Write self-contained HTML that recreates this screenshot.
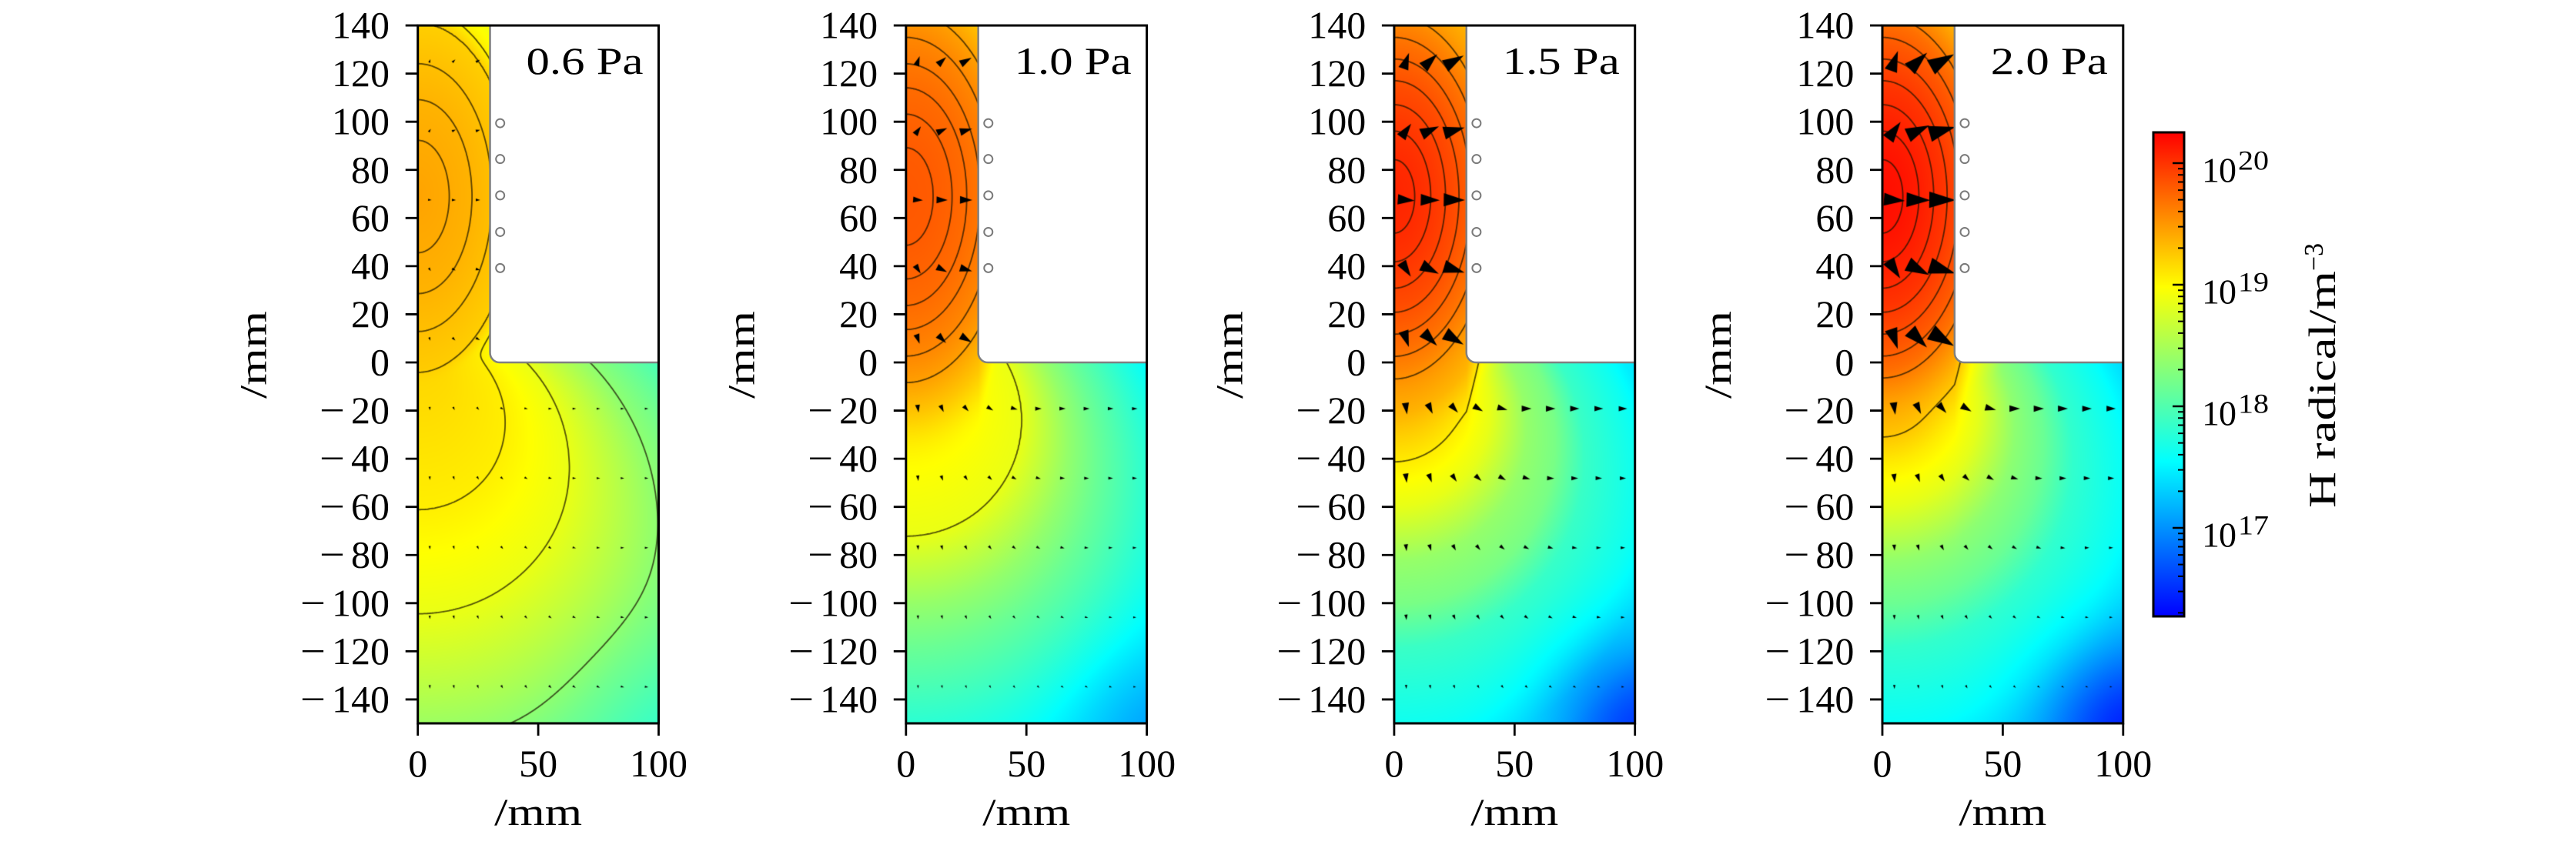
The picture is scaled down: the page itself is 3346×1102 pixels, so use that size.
<!DOCTYPE html>
<html><head><meta charset="utf-8">
<style>
html,body{margin:0;padding:0;background:#fff;}
#wrap{position:relative;width:3346px;height:1102px;overflow:hidden;background:#fff;}
#wrap svg,#wrap canvas{position:absolute;left:0;top:0;}
</style></head><body>
<div id="wrap">
<svg id="bg" width="3346" height="1102" xmlns="http://www.w3.org/2000/svg">
<defs>
<radialGradient id="s1" cx="0" cy="0.55" r="1"><stop offset="0" stop-color="#ffa500"/><stop offset="1" stop-color="#f0ff10"/></radialGradient>
<radialGradient id="l1" cx="0.05" cy="0" r="1.1"><stop offset="0" stop-color="#ffd800"/><stop offset="0.5" stop-color="#d0ff30"/><stop offset="1" stop-color="#30ffc8"/></radialGradient>
<radialGradient id="s2" cx="0" cy="0.55" r="1"><stop offset="0" stop-color="#ff5a00"/><stop offset="1" stop-color="#ffc000"/></radialGradient>
<radialGradient id="l2" cx="0.05" cy="0" r="1.1"><stop offset="0" stop-color="#ffc000"/><stop offset="0.4" stop-color="#b0ff50"/><stop offset="1" stop-color="#00b0ff"/></radialGradient>
<radialGradient id="s3" cx="0" cy="0.55" r="1"><stop offset="0" stop-color="#ff2800"/><stop offset="1" stop-color="#ffa000"/></radialGradient>
<radialGradient id="l3" cx="0.05" cy="0" r="1.1"><stop offset="0" stop-color="#ffb000"/><stop offset="0.4" stop-color="#80ff80"/><stop offset="1" stop-color="#0040ff"/></radialGradient>
</defs>
<g transform="translate(542.7,0)"><rect x="0" y="33" width="93.8" height="438" fill="url(#s1)"/><rect x="0" y="471" width="312.8" height="469" fill="url(#l1)"/></g>
<g transform="translate(1176.8,0)"><rect x="0" y="33" width="93.8" height="438" fill="url(#s2)"/><rect x="0" y="471" width="312.8" height="469" fill="url(#l2)"/></g>
<g transform="translate(1810.9,0)"><rect x="0" y="33" width="93.8" height="438" fill="url(#s3)"/><rect x="0" y="471" width="312.8" height="469" fill="url(#l3)"/></g>
<g transform="translate(2445,0)"><rect x="0" y="33" width="93.8" height="438" fill="url(#s3)"/><rect x="0" y="471" width="312.8" height="469" fill="url(#l3)"/></g>
</svg>
<canvas id="cv" width="3346" height="1102"></canvas>
<svg id="fg" width="3346" height="1102" xmlns="http://www.w3.org/2000/svg" font-family="'Liberation Serif','DejaVu Serif',serif">
<defs>
<linearGradient id="cb" x1="0" y1="1" x2="0" y2="0">
<stop offset="0" stop-color="#0000ff"/><stop offset="0.32" stop-color="#00ffff"/><stop offset="0.68" stop-color="#ffff00"/><stop offset="1" stop-color="#ff0000"/>
</linearGradient>
</defs>

<!-- PANEL 1 -->
<g transform="translate(542.7,0)">
<path d="M93.84,33.08V458.49A12.51,12.51 0 0 0 106.35,471H312.8" fill="none" stroke="#808080" stroke-width="2.5"/>
<g fill="none" stroke="#7a7a7a" stroke-width="2"><circle cx="106.98" cy="160.08" r="5.5"/><circle cx="106.98" cy="206.68" r="5.5"/><circle cx="106.98" cy="253.92" r="5.5"/><circle cx="106.98" cy="301.46" r="5.5"/><circle cx="106.98" cy="348.38" r="5.5"/></g>
<rect x="0" y="33.08" width="312.8" height="906.92" fill="none" stroke="#000" stroke-width="3"/>
<path d="M-16,33.08H0M-16,95.64H0M-16,158.2H0M-16,220.76H0M-16,283.32H0M-16,345.88H0M-16,408.44H0M-16,471H0M-16,533.56H0M-16,596.12H0M-16,658.68H0M-16,721.24H0M-16,783.8H0M-16,846.36H0M-16,908.92H0M0,940V956M156.4,940V956M312.8,940V956" stroke="#000" stroke-width="2.8"/>
<g font-size="50" fill="#000">
<text x="-111.7" y="49.58" textLength="75">140</text>
<text x="-111.7" y="112.14" textLength="75">120</text>
<text x="-111.7" y="174.7" textLength="75">100</text>
<text x="-86.7" y="237.26" textLength="50">80</text>
<text x="-86.7" y="299.82" textLength="50">60</text>
<text x="-86.7" y="362.38" textLength="50">40</text>
<text x="-86.7" y="424.94" textLength="50">20</text>
<text x="-61.7" y="487.5" textLength="25">0</text>
<text x="-127.7" y="550.06" textLength="33" lengthAdjust="spacingAndGlyphs">−</text><text x="-86.7" y="550.06" textLength="50">20</text>
<text x="-127.7" y="612.62" textLength="33" lengthAdjust="spacingAndGlyphs">−</text><text x="-86.7" y="612.62" textLength="50">40</text>
<text x="-127.7" y="675.18" textLength="33" lengthAdjust="spacingAndGlyphs">−</text><text x="-86.7" y="675.18" textLength="50">60</text>
<text x="-127.7" y="737.74" textLength="33" lengthAdjust="spacingAndGlyphs">−</text><text x="-86.7" y="737.74" textLength="50">80</text>
<text x="-152.7" y="800.3" textLength="33" lengthAdjust="spacingAndGlyphs">−</text><text x="-111.7" y="800.3" textLength="75">100</text>
<text x="-152.7" y="862.86" textLength="33" lengthAdjust="spacingAndGlyphs">−</text><text x="-111.7" y="862.86" textLength="75">120</text>
<text x="-152.7" y="925.42" textLength="33" lengthAdjust="spacingAndGlyphs">−</text><text x="-111.7" y="925.42" textLength="75">140</text>
<text x="-12.5" y="1009" textLength="25">0</text>
<text x="131.4" y="1009" textLength="50">50</text>
<text x="275.3" y="1009" textLength="75">100</text>
<text x="99.4" y="1072" textLength="114" lengthAdjust="spacingAndGlyphs">/mm</text>
<text transform="translate(-197.2,461) rotate(-90)" x="-57" y="0" textLength="114" lengthAdjust="spacingAndGlyphs">/mm</text>
<text x="140.8" y="96" textLength="152" lengthAdjust="spacingAndGlyphs">0.6 Pa</text>
</g>
</g>

<!-- PANEL 2 -->
<g transform="translate(1176.8,0)">
<path d="M93.84,33.08V458.49A12.51,12.51 0 0 0 106.35,471H312.8" fill="none" stroke="#808080" stroke-width="2.5"/>
<g fill="none" stroke="#7a7a7a" stroke-width="2"><circle cx="106.98" cy="160.08" r="5.5"/><circle cx="106.98" cy="206.68" r="5.5"/><circle cx="106.98" cy="253.92" r="5.5"/><circle cx="106.98" cy="301.46" r="5.5"/><circle cx="106.98" cy="348.38" r="5.5"/></g>
<rect x="0" y="33.08" width="312.8" height="906.92" fill="none" stroke="#000" stroke-width="3"/>
<path d="M-16,33.08H0M-16,95.64H0M-16,158.2H0M-16,220.76H0M-16,283.32H0M-16,345.88H0M-16,408.44H0M-16,471H0M-16,533.56H0M-16,596.12H0M-16,658.68H0M-16,721.24H0M-16,783.8H0M-16,846.36H0M-16,908.92H0M0,940V956M156.4,940V956M312.8,940V956" stroke="#000" stroke-width="2.8"/>
<g font-size="50" fill="#000">
<text x="-111.7" y="49.58" textLength="75">140</text>
<text x="-111.7" y="112.14" textLength="75">120</text>
<text x="-111.7" y="174.7" textLength="75">100</text>
<text x="-86.7" y="237.26" textLength="50">80</text>
<text x="-86.7" y="299.82" textLength="50">60</text>
<text x="-86.7" y="362.38" textLength="50">40</text>
<text x="-86.7" y="424.94" textLength="50">20</text>
<text x="-61.7" y="487.5" textLength="25">0</text>
<text x="-127.7" y="550.06" textLength="33" lengthAdjust="spacingAndGlyphs">−</text><text x="-86.7" y="550.06" textLength="50">20</text>
<text x="-127.7" y="612.62" textLength="33" lengthAdjust="spacingAndGlyphs">−</text><text x="-86.7" y="612.62" textLength="50">40</text>
<text x="-127.7" y="675.18" textLength="33" lengthAdjust="spacingAndGlyphs">−</text><text x="-86.7" y="675.18" textLength="50">60</text>
<text x="-127.7" y="737.74" textLength="33" lengthAdjust="spacingAndGlyphs">−</text><text x="-86.7" y="737.74" textLength="50">80</text>
<text x="-152.7" y="800.3" textLength="33" lengthAdjust="spacingAndGlyphs">−</text><text x="-111.7" y="800.3" textLength="75">100</text>
<text x="-152.7" y="862.86" textLength="33" lengthAdjust="spacingAndGlyphs">−</text><text x="-111.7" y="862.86" textLength="75">120</text>
<text x="-152.7" y="925.42" textLength="33" lengthAdjust="spacingAndGlyphs">−</text><text x="-111.7" y="925.42" textLength="75">140</text>
<text x="-12.5" y="1009" textLength="25">0</text>
<text x="131.4" y="1009" textLength="50">50</text>
<text x="275.3" y="1009" textLength="75">100</text>
<text x="99.4" y="1072" textLength="114" lengthAdjust="spacingAndGlyphs">/mm</text>
<text transform="translate(-197.2,461) rotate(-90)" x="-57" y="0" textLength="114" lengthAdjust="spacingAndGlyphs">/mm</text>
<text x="140.8" y="96" textLength="152" lengthAdjust="spacingAndGlyphs">1.0 Pa</text>
</g>
</g>

<!-- PANEL 3 -->
<g transform="translate(1810.9,0)">
<path d="M93.84,33.08V458.49A12.51,12.51 0 0 0 106.35,471H312.8" fill="none" stroke="#808080" stroke-width="2.5"/>
<g fill="none" stroke="#7a7a7a" stroke-width="2"><circle cx="106.98" cy="160.08" r="5.5"/><circle cx="106.98" cy="206.68" r="5.5"/><circle cx="106.98" cy="253.92" r="5.5"/><circle cx="106.98" cy="301.46" r="5.5"/><circle cx="106.98" cy="348.38" r="5.5"/></g>
<rect x="0" y="33.08" width="312.8" height="906.92" fill="none" stroke="#000" stroke-width="3"/>
<path d="M-16,33.08H0M-16,95.64H0M-16,158.2H0M-16,220.76H0M-16,283.32H0M-16,345.88H0M-16,408.44H0M-16,471H0M-16,533.56H0M-16,596.12H0M-16,658.68H0M-16,721.24H0M-16,783.8H0M-16,846.36H0M-16,908.92H0M0,940V956M156.4,940V956M312.8,940V956" stroke="#000" stroke-width="2.8"/>
<g font-size="50" fill="#000">
<text x="-111.7" y="49.58" textLength="75">140</text>
<text x="-111.7" y="112.14" textLength="75">120</text>
<text x="-111.7" y="174.7" textLength="75">100</text>
<text x="-86.7" y="237.26" textLength="50">80</text>
<text x="-86.7" y="299.82" textLength="50">60</text>
<text x="-86.7" y="362.38" textLength="50">40</text>
<text x="-86.7" y="424.94" textLength="50">20</text>
<text x="-61.7" y="487.5" textLength="25">0</text>
<text x="-127.7" y="550.06" textLength="33" lengthAdjust="spacingAndGlyphs">−</text><text x="-86.7" y="550.06" textLength="50">20</text>
<text x="-127.7" y="612.62" textLength="33" lengthAdjust="spacingAndGlyphs">−</text><text x="-86.7" y="612.62" textLength="50">40</text>
<text x="-127.7" y="675.18" textLength="33" lengthAdjust="spacingAndGlyphs">−</text><text x="-86.7" y="675.18" textLength="50">60</text>
<text x="-127.7" y="737.74" textLength="33" lengthAdjust="spacingAndGlyphs">−</text><text x="-86.7" y="737.74" textLength="50">80</text>
<text x="-152.7" y="800.3" textLength="33" lengthAdjust="spacingAndGlyphs">−</text><text x="-111.7" y="800.3" textLength="75">100</text>
<text x="-152.7" y="862.86" textLength="33" lengthAdjust="spacingAndGlyphs">−</text><text x="-111.7" y="862.86" textLength="75">120</text>
<text x="-152.7" y="925.42" textLength="33" lengthAdjust="spacingAndGlyphs">−</text><text x="-111.7" y="925.42" textLength="75">140</text>
<text x="-12.5" y="1009" textLength="25">0</text>
<text x="131.4" y="1009" textLength="50">50</text>
<text x="275.3" y="1009" textLength="75">100</text>
<text x="99.4" y="1072" textLength="114" lengthAdjust="spacingAndGlyphs">/mm</text>
<text transform="translate(-197.2,461) rotate(-90)" x="-57" y="0" textLength="114" lengthAdjust="spacingAndGlyphs">/mm</text>
<text x="140.8" y="96" textLength="152" lengthAdjust="spacingAndGlyphs">1.5 Pa</text>
</g>
</g>

<!-- PANEL 4 -->
<g transform="translate(2445,0)">
<path d="M93.84,33.08V458.49A12.51,12.51 0 0 0 106.35,471H312.8" fill="none" stroke="#808080" stroke-width="2.5"/>
<g fill="none" stroke="#7a7a7a" stroke-width="2"><circle cx="106.98" cy="160.08" r="5.5"/><circle cx="106.98" cy="206.68" r="5.5"/><circle cx="106.98" cy="253.92" r="5.5"/><circle cx="106.98" cy="301.46" r="5.5"/><circle cx="106.98" cy="348.38" r="5.5"/></g>
<rect x="0" y="33.08" width="312.8" height="906.92" fill="none" stroke="#000" stroke-width="3"/>
<path d="M-16,33.08H0M-16,95.64H0M-16,158.2H0M-16,220.76H0M-16,283.32H0M-16,345.88H0M-16,408.44H0M-16,471H0M-16,533.56H0M-16,596.12H0M-16,658.68H0M-16,721.24H0M-16,783.8H0M-16,846.36H0M-16,908.92H0M0,940V956M156.4,940V956M312.8,940V956" stroke="#000" stroke-width="2.8"/>
<g font-size="50" fill="#000">
<text x="-111.7" y="49.58" textLength="75">140</text>
<text x="-111.7" y="112.14" textLength="75">120</text>
<text x="-111.7" y="174.7" textLength="75">100</text>
<text x="-86.7" y="237.26" textLength="50">80</text>
<text x="-86.7" y="299.82" textLength="50">60</text>
<text x="-86.7" y="362.38" textLength="50">40</text>
<text x="-86.7" y="424.94" textLength="50">20</text>
<text x="-61.7" y="487.5" textLength="25">0</text>
<text x="-127.7" y="550.06" textLength="33" lengthAdjust="spacingAndGlyphs">−</text><text x="-86.7" y="550.06" textLength="50">20</text>
<text x="-127.7" y="612.62" textLength="33" lengthAdjust="spacingAndGlyphs">−</text><text x="-86.7" y="612.62" textLength="50">40</text>
<text x="-127.7" y="675.18" textLength="33" lengthAdjust="spacingAndGlyphs">−</text><text x="-86.7" y="675.18" textLength="50">60</text>
<text x="-127.7" y="737.74" textLength="33" lengthAdjust="spacingAndGlyphs">−</text><text x="-86.7" y="737.74" textLength="50">80</text>
<text x="-152.7" y="800.3" textLength="33" lengthAdjust="spacingAndGlyphs">−</text><text x="-111.7" y="800.3" textLength="75">100</text>
<text x="-152.7" y="862.86" textLength="33" lengthAdjust="spacingAndGlyphs">−</text><text x="-111.7" y="862.86" textLength="75">120</text>
<text x="-152.7" y="925.42" textLength="33" lengthAdjust="spacingAndGlyphs">−</text><text x="-111.7" y="925.42" textLength="75">140</text>
<text x="-12.5" y="1009" textLength="25">0</text>
<text x="131.4" y="1009" textLength="50">50</text>
<text x="275.3" y="1009" textLength="75">100</text>
<text x="99.4" y="1072" textLength="114" lengthAdjust="spacingAndGlyphs">/mm</text>
<text transform="translate(-197.2,461) rotate(-90)" x="-57" y="0" textLength="114" lengthAdjust="spacingAndGlyphs">/mm</text>
<text x="140.8" y="96" textLength="152" lengthAdjust="spacingAndGlyphs">2.0 Pa</text>
</g>
</g>

<!-- COLORBAR -->
<rect x="2797" y="172" width="40" height="629" fill="url(#cb)" stroke="#000" stroke-width="3"/>
<path d="M2822,212H2837M2822,370H2837M2822,528H2837M2822,686H2837" stroke="#000" stroke-width="2.6"/>
<path d="M2829,322.4H2837M2829,294.6H2837M2829,274.9H2837M2829,259.6H2837M2829,247.1H2837M2829,236.5H2837M2829,227.3H2837M2829,219.2H2837M2829,480.4H2837M2829,452.6H2837M2829,432.9H2837M2829,417.6H2837M2829,405.1H2837M2829,394.5H2837M2829,385.3H2837M2829,377.2H2837M2829,638.4H2837M2829,610.6H2837M2829,590.9H2837M2829,575.6H2837M2829,563.1H2837M2829,552.5H2837M2829,543.3H2837M2829,535.2H2837M2829,796.4H2837M2829,768.6H2837M2829,748.9H2837M2829,733.6H2837M2829,721.1H2837M2829,710.5H2837M2829,701.3H2837M2829,693.2H2837" stroke="#000" stroke-width="2"/>
<g fill="#000">
<text x="2860" y="236.5" font-size="46" textLength="45">10</text><text x="2907" y="220.5" font-size="36" textLength="40" lengthAdjust="spacingAndGlyphs">20</text>
<text x="2860" y="394.5" font-size="46" textLength="45">10</text><text x="2907" y="378.5" font-size="36" textLength="40" lengthAdjust="spacingAndGlyphs">19</text>
<text x="2860" y="552.5" font-size="46" textLength="45">10</text><text x="2907" y="536.5" font-size="36" textLength="40" lengthAdjust="spacingAndGlyphs">18</text>
<text x="2860" y="710.5" font-size="46" textLength="45">10</text><text x="2907" y="694.5" font-size="36" textLength="40" lengthAdjust="spacingAndGlyphs">17</text>
<text transform="translate(3033,660) rotate(-90)" x="0" y="0" font-size="50" textLength="308" lengthAdjust="spacingAndGlyphs">H radical/m</text>
<text transform="translate(3017,352) rotate(-90)" x="0" y="0" font-size="35" textLength="36" lengthAdjust="spacingAndGlyphs">−3</text>
</g>
</svg>
</div>
<script>
(function(){
var cv=document.getElementById('cv');
if(!cv||!cv.getContext) return;
var ctx=cv.getContext('2d');
var W=3346,H=1102,S=3.128,Y0=471,TOP=33.08,BOT=940;
var LEFT=[542.7,1176.8,1810.9,2445.0];
function cmap(t){
  if(t<0)t=0; if(t>1)t=1; var r,g,b;
  if(t<0.32){r=0;g=t/0.32;b=1;}
  else if(t<0.68){r=(t-0.32)/0.36;g=1;b=1-r;}
  else {r=1;g=1-(t-0.68)/0.32;b=0;}
  return [r*255,g*255,b*255];
}
function itp(tab,v){
  if(v<=tab[0][0]) return tab[0][1];
  for(var i=1;i<tab.length;i++){
    if(v<=tab[i][0]){var a=tab[i-1],b=tab[i];return a[1]+(b[1]-a[1])*(v-a[0])/(b[0]-a[0]);}
  }
  return tab[tab.length-1][1];
}
var P=[
 {Ts:[[0,.795],[23,.785],[40,.775],[55,.76],[72,.74],[78,.70],[90,.655],[110,.6],[140,.5],[200,.25],[300,0]],
  a:.7, Tl:[[0,.728],[12,.722],[36,.70],[63,.65],[100,.52],[140,.42],[200,.3],[400,.1]], A:.05, sig:40, B:.02,
  levR:[23,40,55,72], lowLev:[.70,.65,.52], Ls:5, Lo:[[4.5,4.5],[4.5,4.5],[4.5,4.5],[4.5,4.5],[4.5,4.5]]},
 {Ts:[[0,.89],[20,.885],[34,.875],[45,.865],[55,.85],[66,.83],[77,.80],[90,.75],[110,.66],[140,.53],[200,.23],[300,0]],
  a:.5, Tl:[[0,.74],[15,.71],[28,.68],[48,.65],[67,.53],[79,.47],[100,.38],[110,.34],[116,.32],[131,.28],[200,.15],[400,0]], A:.07, sig:35, B:0,
  levR:[20,34,45,55,66,77], lowLev:[.65], Ls:14, Lo:[[10,7],[7,6],[6,5],[5,4],[4,3.5]]},
 {Ts:[[0,.955],[17,.945],[30,.93],[45,.905],[55,.88],[63,.86],[72,.83],[80,.80],[90,.77],[110,.67],[140,.55],[200,.25],[300,0]],
  a:.5, Tl:[[0,.80],[15,.76],[28,.70],[40,.645],[55,.53],[67,.49],[79,.40],[100,.34],[110,.30],[116,.29],[140,.22],[200,.1],[400,0]], A:.17, sig:35, B:0,
  levR:[15,27,38,48,57,66,75], lowLev:[.705], Ls:24, Lo:[[15,11],[12,8],[9,6],[7,5],[5,3.5]]},
 {Ts:[[0,.985],[17,.975],[30,.96],[45,.935],[55,.91],[63,.89],[72,.86],[80,.82],[90,.77],[110,.68],[140,.57],[200,.27],[300,0]],
  a:.5, Tl:[[0,.81],[15,.77],[20,.75],[28,.70],[40,.64],[55,.52],[67,.47],[79,.39],[100,.33],[110,.29],[116,.27],[140,.2],[200,.08],[400,0]], A:.18, sig:35, B:0,
  levR:[15,27,38,48,57,66,75], lowLev:[.75], Ls:30, Lo:[[16,12],[11,8],[8,5.5],[6,4],[5,3]]}
];
function field(p,x,y){
  var Rs=Math.sqrt((x/0.56)*(x/0.56)+(y-69)*(y-69));
  if(x>30) Rs+=2*(x-30);
  var ts=itp(p.Ts,Rs);
  var a=p.a, q=x*x+y*y, ay=a*y, k=1-a*a;
  var Rl=(ay+Math.sqrt(ay*ay+k*q))/k;
  var tl=itp(p.Tl,Rl);
  var e=0.02;
  var t=0.5*(ts+tl+Math.sqrt((ts-tl)*(ts-tl)+e*e));
  var dx=100-x, dy=y+150;
  t-=p.A*Math.exp(-(dx*dx+dy*dy)/(p.sig*p.sig));
  if(p.B) t-=p.B*Math.exp(-(y+150)/25);
  return t;
}
function inDom(x,y){
  if(x<0||x>100||y<-150||y>140) return false;
  if(y<=0) return true;
  if(x<=30) return true;
  if(x<34&&y<4) return ((x-34)*(x-34)+(y-4)*(y-4))>16;
  return false;
}
function domainPath(left){
  var xw=left+30*S, r=4*S;
  ctx.beginPath(); ctx.moveTo(left,TOP); ctx.lineTo(xw,TOP); ctx.lineTo(xw,Y0-r);
  ctx.arc(xw+r,Y0-r,r,Math.PI,Math.PI/2,true);
  ctx.lineTo(left+100*S,Y0); ctx.lineTo(left+100*S,BOT); ctx.lineTo(left,BOT); ctx.closePath();
}
var img=ctx.createImageData(W,H), D=img.data;
for(var pi=0;pi<4;pi++){
  var p=P[pi], left=LEFT[pi];
  var x0=Math.floor(left)-1, x1=Math.ceil(left+312.8)+1;
  for(var py=31;py<=942;py++){
    var y=(Y0-(py+0.5))/S;
    for(var px=x0;px<=x1;px++){
      var x=(px+0.5-left)/S;
      if(!inDom(x,y)) continue;
      var c=cmap(field(p,x,y)); var o=(py*W+px)*4;
      D[o]=c[0];D[o+1]=c[1];D[o+2]=c[2];D[o+3]=255;
    }
  }
}
ctx.putImageData(img,0,0);
function tri(cx,cy,ux,uy,Lg,Wd){
  var tx=cx+ux*Lg/2, ty=cy+uy*Lg/2, bx=cx-ux*Lg/2, by=cy-uy*Lg/2, nx=-uy, ny=ux;
  ctx.beginPath(); ctx.moveTo(tx,ty); ctx.lineTo(bx+nx*Wd/2,by+ny*Wd/2); ctx.lineTo(bx-nx*Wd/2,by-ny*Wd/2); ctx.closePath(); ctx.fill();
}
for(var pi=0;pi<4;pi++){
  var p=P[pi], left=LEFT[pi];
  var h=0.5, gx0=-1, gy0=-151, nx=205, ny=585;
  var F=new Float32Array(nx*ny);
  for(var j=0;j<ny;j++){var yy=gy0+j*h; for(var i=0;i<nx;i++){F[j*nx+i]=field(p,gx0+i*h,yy);}}
  var levs=p.levR.map(function(r){return itp(p.Ts,r);}).concat(p.lowLev);
  ctx.save(); domainPath(left); ctx.clip();
  ctx.strokeStyle='rgba(25,20,0,0.72)'; ctx.lineWidth=1.8; ctx.lineCap='round';
  ctx.beginPath();
  for(var li=0;li<levs.length;li++){
    var lv=levs[li];
    for(var j=0;j<ny-1;j++){
      for(var i=0;i<nx-1;i++){
        var a=F[j*nx+i]-lv,b=F[j*nx+i+1]-lv,c=F[(j+1)*nx+i+1]-lv,d=F[(j+1)*nx+i]-lv;
        var X=gx0+i*h, Yv=gy0+j*h, pts=[], f;
        if((a>0)!==(b>0)){f=a/(a-b);pts.push(X+f*h,Yv);}
        if((b>0)!==(c>0)){f=b/(b-c);pts.push(X+h,Yv+f*h);}
        if((c>0)!==(d>0)){f=c/(c-d);pts.push(X+h-f*h,Yv+h);}
        if((d>0)!==(a>0)){f=d/(d-a);pts.push(X,Yv+h-f*h);}
        for(var k=0;k+3<pts.length;k+=4){
          ctx.moveTo(left+pts[k]*S,Y0-pts[k+1]*S); ctx.lineTo(left+pts[k+2]*S,Y0-pts[k+3]*S);
        }
      }
    }
  }
  ctx.stroke(); ctx.restore();
  ctx.fillStyle='#000';
  var slotRows=[125.3,96.4,67.5,38.6,9.7], lowRows=[-19.2,-48.1,-77,-105.9,-134.8];
  for(var r=0;r<slotRows.length;r++){
    var y=slotRows[r];
    for(var xi=0;xi<3;xi++){
      var x=5+10*xi, dx=4*x, dy=y-69, n=Math.sqrt(dx*dx+dy*dy); dx/=n; dy/=n;
      var Lg=p.Ls*(0.85+0.3*x/25);
      tri(left+x*S,Y0-y*S,dx,-dy,Lg,Lg*0.62);
    }
  }
  for(var r=0;r<lowRows.length;r++){
    var y=lowRows[r];
    for(var kk=0;kk<10;kk++){
      var x=5+10*kk;
      var th=Math.PI/2*Math.min(1,x/(45+0.45*Math.abs(y)));
      var dx=Math.sin(th), dy=-Math.cos(th);
      var Lg=p.Lo[r][0]+(p.Lo[r][1]-p.Lo[r][0])*kk/9;
      tri(left+x*S,Y0-y*S,dx,-dy,Lg,Lg*0.62);
    }
  }
}
var bg=document.getElementById('bg'); if(bg) bg.style.display='none';
})();
</script>
</body></html>
